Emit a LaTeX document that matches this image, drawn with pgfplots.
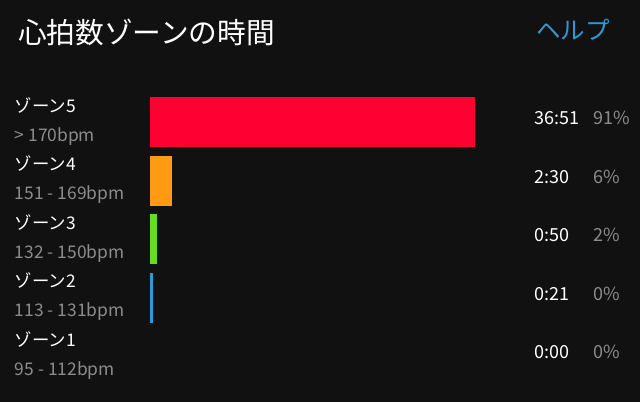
\documentclass[border=0pt]{standalone}
\usepackage{fontspec}
\setmainfont{Noto Sans CJK JP}
\usepackage{pgfplots}
\pgfplotsset{compat=1.18}
\definecolor{bg}{HTML}{111111}
\definecolor{z5}{HTML}{FF0033}
\definecolor{z4}{HTML}{FF9A12}
\definecolor{z3}{HTML}{66DD22}
\definecolor{z2}{HTML}{2A9BD8}
\definecolor{sub}{HTML}{8C8C8C}
\definecolor{helpblue}{HTML}{2A9BD8}

\begin{document}
\begin{tikzpicture}
\fill[bg] (-150pt,-16.75pt) rectangle (490pt,385.25pt);
\useasboundingbox (-150pt,-16.75pt) rectangle (490pt,385.25pt);

% title and help link
\node[anchor=west, text=white, inner sep=0pt, font=\fontsize{28.7}{30}\selectfont]
  at (-132pt,353pt) {心拍数ゾーンの時間};
\node[anchor=east, text=helpblue, inner sep=0pt, font=\fontsize{24.5}{26}\selectfont]
  at (460pt,355pt) {ヘルプ};

% seconds in each zone
\begin{axis}[
  scale only axis, width=325pt, height=292.5pt,
  xbar, bar width=50pt, bar shift=0pt,
  xmin=0, xmax=2211, ymin=-0.5, ymax=4.5,
  axis line style={draw=none}, tick style={draw=none},
  xtick=\empty, ytick={0,1,2,3,4},
  yticklabels={
    {ゾーン1\\{\color{sub}95 - 112bpm}},
    {ゾーン2\\{\color{sub}113 - 131bpm}},
    {ゾーン3\\{\color{sub}132 - 150bpm}},
    {ゾーン4\\{\color{sub}151 - 169bpm}},
    {ゾーン5\\{\color{sub}> 170bpm}}},
  yticklabel style={anchor=west, xshift=-131pt, yshift=0.5pt, align=left,
    inner sep=0pt, text=white, font=\fontsize{17.4}{29}\selectfont},
]
\addplot[fill=z5, draw=none] coordinates {(2211,4)};
\addplot[fill=z4, draw=none] coordinates {(150,3)};
\addplot[fill=z3, draw=none] coordinates {(50,2)};
\addplot[fill=z2, draw=none] coordinates {(21,1)};
\addplot[fill=none, draw=none] coordinates {(0,0)};
\end{axis}

% time and share column
\begin{axis}[
  scale only axis, width=325pt, height=292.5pt,
  xmin=0, xmax=2211, ymin=-0.5, ymax=4.5,
  axis line style={draw=none}, tick style={draw=none},
  xtick=\empty, ytick={0,1,2,3,4}, yticklabel pos=right,
  yticklabels={
    {\makebox[59pt][l]{0:00}{\color{sub}0\%}},
    {\makebox[59pt][l]{0:21}{\color{sub}0\%}},
    {\makebox[59pt][l]{0:50}{\color{sub}2\%}},
    {\makebox[59pt][l]{2:30}{\color{sub}6\%}},
    {\makebox[59pt][l]{36:51}{\color{sub}91\%}}},
  yticklabel style={anchor=west, xshift=59pt, yshift=4pt, inner sep=0pt,
    text=white, font=\fontsize{18}{20}\selectfont},
]
\end{axis}
\end{tikzpicture}
\end{document}
